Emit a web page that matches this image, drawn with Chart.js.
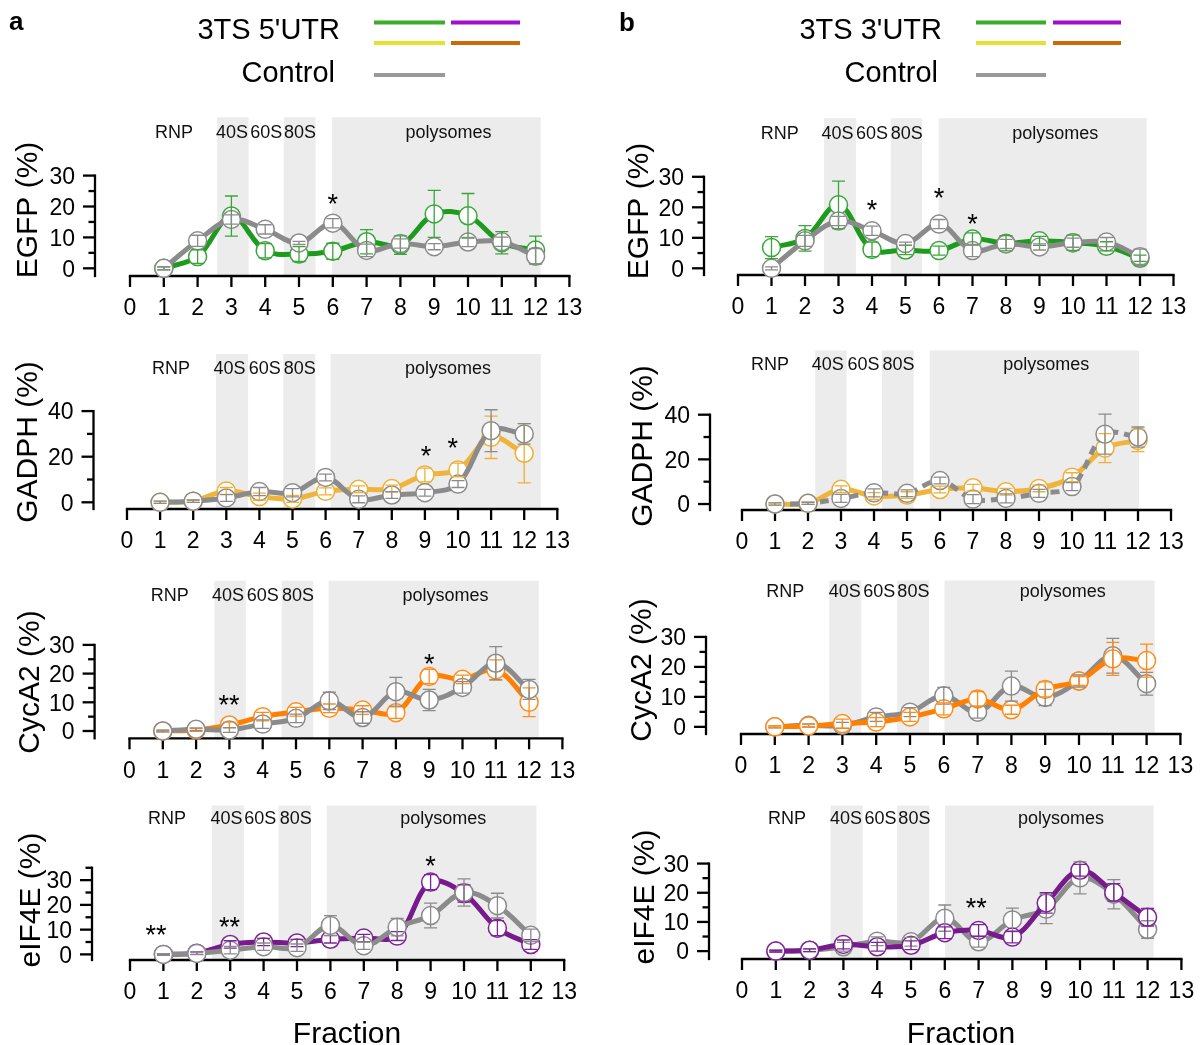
<!DOCTYPE html>
<html><head><meta charset="utf-8">
<script src="https://cdn.jsdelivr.net/npm/chart.js@4.4.1/dist/chart.umd.min.js"></script>
<style>
html,body{margin:0;padding:0;background:#fff;}
#wrap{position:relative;width:1203px;height:1045px;overflow:hidden;background:#fff;}
#wrap canvas{position:absolute;}
</style></head>
<body><div id="wrap"><canvas id="deco" width="1203" height="1045" style="left:0;top:0;width:1203px;height:1045px"></canvas></div>
<script>
// ---------- DATA ----------
const fractions = [1,2,3,4,5,6,7,8,9,10,11,12];
const xTickValues = [0,1,2,3,4,5,6,7,8,9,10,11,12,13];
const xTickLabels = ['0','1','2','3','4','5','6','7','8','9','10','11','12','13'];
const bandLabels = ['RNP','40S','60S','80S','polysomes'];
const legendNames = ["3TS 5'UTR", "3TS 3'UTR", "Control"];
const egfpYTicks = [0,10,20,30];
const gadphYTicks = [0,20,40];
const cycaYTicks = [0,10,20,30];
const eifYTicks = [0,10,20,30];

// EGFP
const egfp5Utr    = [0, 3.8, 16.9, 5.7, 4.6, 5.5, 8.6, 7.5, 17.6, 17.0, 8.3, 5.9];
const egfp5UtrErr = [0.5, 2.2, 6.5, 2.3, 2.4, 2.6, 3.9, 3.0, 7.6, 7.2, 3.6, 4.5];
const egfpCtrlA    = [0, 8.9, 15.8, 12.6, 8.2, 14.6, 5.8, 8.0, 7.0, 8.5, 8.6, 3.9];
const egfpCtrlAErr = [0.5, 1.8, 1.5, 1.5, 0.5, 1.5, 2.0, 1.5, 1.0, 1.5, 1.5, 2.5];
const egfp3Utr    = [6.8, 9.8, 20.8, 6.2, 6.0, 5.8, 9.6, 8.2, 9.0, 8.4, 7.2, 3.3];
const egfp3UtrErr = [3.6, 4.2, 7.8, 2.4, 1.5, 1.5, 2.0, 2.5, 1.5, 2.5, 1.5, 1.0];
const egfpCtrlB    = [0, 9.0, 15.5, 12.3, 8.1, 14.5, 5.8, 8.0, 7.0, 8.4, 8.6, 3.8];
const egfpCtrlBErr = [0.5, 1.8, 1.5, 1.5, 0.5, 1.5, 2.0, 1.5, 1.0, 1.5, 1.5, 2.5];
// GADPH
const gadph5Utr    = [0, 0.5, 5.0, 2.5, 1.5, 4.8, 5.7, 6.0, 12.0, 14.2, 28.5, 21.5];
const gadph5UtrErr = [0.5, 0.5, 1.5, 1.5, 1.5, 1.5, 1.5, 1.5, 3.0, 3.0, 9.3, 13.0];
const gadphCtrlA    = [0, 0.5, 1.9, 4.7, 4.2, 10.9, 1.3, 3.2, 4.2, 8.0, 31.4, 30.0];
const gadphCtrlAErr = [0.5, 0.5, 1.5, 1.8, 1.8, 1.5, 1.5, 1.5, 1.5, 1.5, 9.2, 4.5];
const gadph3Utr    = [0, 0.3, 6.6, 3.6, 4.0, 6.5, 7.3, 5.5, 7.0, 12.0, 25.0, 28.5];
const gadph3UtrErr = [0.5, 0.5, 1.5, 1.5, 1.5, 1.5, 1.5, 1.5, 1.5, 2.0, 6.5, 5.0];
const gadphCtrlB    = [0, 0.3, 2.5, 5.0, 4.8, 10.5, 2.2, 2.5, 4.8, 7.8, 31.3, 30.0];
const gadphCtrlBErr = [0.5, 0.5, 1.8, 1.8, 1.5, 1.5, 2.0, 2.0, 1.8, 1.8, 9.0, 4.5];
// CycA2
const cyca5Utr    = [0, 0.35, 2.1, 5.0, 6.7, 7.9, 7.3, 6.4, 19.0, 18.0, 21.3, 10.0];
const cyca5UtrErr = [0.3, 0.5, 1.0, 1.5, 1.5, 1.5, 1.5, 2.0, 2.5, 1.5, 3.5, 5.0];
const cycaCtrlA    = [0, 0.6, 0.35, 2.4, 4.4, 10.5, 4.7, 13.7, 10.8, 15.2, 23.6, 14.5];
const cycaCtrlAErr = [0.3, 0.5, 0.8, 1.5, 1.5, 3.0, 2.0, 5.0, 3.7, 2.0, 5.8, 3.5];
const cyca3Utr    = [0, 0.3, 1.1, 1.6, 3.3, 6.0, 9.3, 5.7, 12.5, 15.3, 22.7, 22.1];
const cyca3UtrErr = [0.3, 0.5, 1.5, 1.5, 1.5, 2.0, 2.5, 1.5, 2.5, 1.5, 5.5, 5.5];
const cycaCtrlB    = [0, 0.5, 0.5, 3.3, 4.9, 10.4, 4.9, 13.6, 9.8, 15.3, 23.7, 14.4];
const cycaCtrlBErr = [0.3, 0.5, 1.0, 1.5, 1.5, 2.8, 2.0, 5.0, 2.7, 2.0, 5.8, 3.8];
// eIF4E
const eif5Utr    = [0, 0.5, 4.0, 5.0, 4.6, 6.1, 6.6, 7.4, 29.2, 24.6, 10.6, 4.0];
const eif5UtrErr = [0.3, 0.5, 1.5, 1.5, 1.5, 1.5, 1.5, 1.8, 3.0, 3.5, 3.0, 2.0];
const eifCtrlA    = [0, 0.4, 1.7, 3.1, 2.7, 11.7, 3.5, 11.0, 15.7, 25.0, 19.7, 7.7];
const eifCtrlAErr = [0.3, 0.5, 1.5, 1.5, 1.5, 4.0, 1.5, 3.5, 5.0, 5.5, 5.0, 2.5];
const eif3Utr    = [0, 0.3, 2.3, 1.5, 2.0, 6.3, 7.1, 4.8, 16.5, 27.7, 20.1, 11.6];
const eif3UtrErr = [0.3, 0.5, 1.5, 1.5, 1.5, 2.0, 2.0, 2.0, 3.5, 2.0, 3.0, 3.0];
const eifCtrlB    = [0, 0.3, 1.5, 3.4, 3.2, 11.3, 3.2, 10.7, 14.4, 25.1, 19.5, 7.4];
const eifCtrlBErr = [0.3, 0.5, 1.5, 1.5, 1.5, 4.5, 1.8, 4.0, 5.0, 5.5, 5.0, 3.0];

// ---------- STYLE ----------
const FONT = '"Liberation Sans", Arial, Helvetica, sans-serif';
const SHADE = '#ececec';
const GREY_LINE = '#8b8b8b', GREY_PT = '#8b8b8b';
const COLORS = {
  green:  {line:'#1e9b1e', pt:'#3aa53a'},
  gold:   {line:'#efb43c', pt:'#eeb035'},
  orange: {line:'#ff8000', pt:'#ff8c1a'},
  purple: {line:'#771a8c', pt:'#7d2496'}
};

const panels = [
 {box:[0,95,600,245], yAxisX:95, y0:268.3, ppu:3.09, xAxisY:276, x0:130, step:33.8, shadeTop:117.3, labelY:131.7,
  yAxisTop:30, yMajor:egfpYTicks, yMinor:[5,15,25], bands:[[2.58,3.51],[4.55,5.49],[5.98,12.15]], labelX:[1.3,3.02,4.03,5.03,9.42],
  title:'EGFP (%)', titlePos:[26,210], utr:egfp5Utr, utrErr:egfp5UtrErr, ctrl:egfpCtrlA, ctrlErr:egfpCtrlAErr, color:'green', ctrlOnTop:true,
  stars:[['*',6,23]]},
 {box:[600,95,603,245], yAxisX:704, y0:268.3, ppu:3.05, xAxisY:275, x0:738, step:33.5, shadeTop:118.3, labelY:132.7,
  yAxisTop:30, yMajor:egfpYTicks, yMinor:[5,15,25], bands:[[2.57,3.52],[4.56,5.49],[5.99,12.2]], labelX:[1.25,2.97,4.0,5.04,9.47],
  title:'EGFP (%)', titlePos:[637,211], utr:egfp3Utr, utrErr:egfp3UtrErr, ctrl:egfpCtrlB, ctrlErr:egfpCtrlBErr, color:'green', ctrlOnTop:true,
  stars:[['*',4,21.4],['*',6,25.1],['*',7,16.8]]},
 {box:[0,340,600,230], yAxisX:93.5, y0:502.3, ppu:2.28, xAxisY:509, x0:127, step:33.1, shadeTop:354, labelY:367.3,
  yAxisTop:40, yMajor:gadphYTicks, yMinor:[10,30], bands:[[2.69,3.66],[4.72,5.69],[6.15,12.5]], labelX:[1.33,3.1,4.16,5.22,9.7],
  title:'GADPH (%)', titlePos:[26,442], utr:gadph5Utr, utrErr:gadph5UtrErr, ctrl:gadphCtrlA, ctrlErr:gadphCtrlAErr, color:'gold', ctrlOnTop:true,
  stars:[['*',9.03,23.2],['*',9.84,26.6]]},
 {box:[600,340,603,230], yAxisX:710, y0:504, ppu:2.24, xAxisY:510, x0:742, step:33, shadeTop:350, labelY:363.3,
  yAxisTop:40, yMajor:gadphYTicks, yMinor:[10,30], bands:[[2.22,3.17],[4.24,5.2],[5.69,12.03]], labelX:[0.85,2.6,3.68,4.74,9.22],
  title:'GADPH (%)', titlePos:[641,446], utr:gadph3Utr, utrErr:gadph3UtrErr, ctrl:gadphCtrlB, ctrlErr:gadphCtrlBErr, color:'gold', ctrlOnTop:true, ctrlDash:true,
  stars:[]},
 {box:[0,570,600,225], yAxisX:94.6, y0:731, ppu:2.87, xAxisY:738.3, x0:129.5, step:33.3, shadeTop:580.7, labelY:595,
  yAxisTop:30, yMajor:cycaYTicks, yMinor:[5,15,25], bands:[[2.55,3.49],[4.57,5.52],[5.98,12.29]], labelX:[1.21,2.96,4.0,5.06,9.49],
  title:'CycA2 (%)', titlePos:[28,682], utr:cyca5Utr, utrErr:cyca5UtrErr, ctrl:cycaCtrlA, ctrlErr:cycaCtrlAErr, color:'orange', ctrlOnTop:true,
  stars:[['**',2.99,11.4],['*',9,25.7]]},
 {box:[600,570,603,225], yAxisX:706, y0:726.7, ppu:3.06, xAxisY:734, x0:741, step:33.8, shadeTop:577.3, labelY:590.7,
  yAxisTop:30, yMajor:cycaYTicks, yMinor:[5,15,25], bands:[[2.61,3.56],[4.62,5.56],[6.02,12.24]], labelX:[1.31,3.07,4.09,5.1,9.52],
  title:'CycA2 (%)', titlePos:[640,670], utr:cyca3Utr, utrErr:cyca3UtrErr, ctrl:cycaCtrlB, ctrlErr:cycaCtrlBErr, color:'orange', ctrlOnTop:false,
  stars:[]},
 {box:[0,795,600,250], yAxisX:92, y0:954.3, ppu:2.51, xAxisY:960, x0:130, step:33.4, shadeTop:803.3, labelY:817.7,
  yAxisTop:35, yMajor:eifYTicks, yMinor:[5,15,25,35], bands:[[2.45,3.41],[4.45,5.42],[5.89,12.17]], labelX:[1.11,2.89,3.9,4.96,9.38],
  title:'eIF4E (%)', titlePos:[29,900], utr:eif5Utr, utrErr:eif5UtrErr, ctrl:eifCtrlA, ctrlErr:eifCtrlAErr, color:'purple', ctrlOnTop:true,
  stars:[['**',0.78,10.4],['**',2.98,13.7],['*',9,38.2]], fractionPos:[347,1032]},
 {box:[600,795,603,250], yAxisX:709, y0:951, ppu:2.96, xAxisY:959, x0:742, step:33.8, shadeTop:803.3, labelY:817.7,
  yAxisTop:30, yMajor:eifYTicks, yMinor:[5,15,25], bands:[[2.62,3.57],[4.59,5.54],[6.01,12.18]], labelX:[1.33,3.08,4.1,5.1,9.44],
  title:'eIF4E (%)', titlePos:[643,897], utr:eif3Utr, utrErr:eif3UtrErr, ctrl:eifCtrlB, ctrlErr:eifCtrlBErr, color:'purple', ctrlOnTop:false,
  stars:[['**',6.93,16.9]], fractionPos:[961,1032]}
];

const wrap = document.getElementById('wrap');

function pts(vals){ return fractions.map((f,i)=>({x:f, y:vals[i]})); }

function makePanel(p){
  const [L,T,W,H] = p.box;
  const cv = document.createElement('canvas');
  cv.width = W; cv.height = H;
  cv.style.left = L+'px'; cv.style.top = T+'px';
  cv.style.width = W+'px'; cv.style.height = H+'px';
  wrap.appendChild(cv);

  const areaLeft = p.yAxisX - L;
  const areaRight = p.x0 + 13*p.step - L;
  const areaTop = p.shadeTop - T;
  const areaBottom = p.xAxisY - T;
  const xmin = (p.yAxisX - p.x0)/p.step, xmax = 13;
  const ymin = -(p.xAxisY - p.y0)/p.ppu, ymax = (p.y0 - p.shadeTop)/p.ppu;

  const col = COLORS[p.color];
  const ctrlDs = {data:pts(p.ctrl), borderColor:GREY_LINE, borderWidth:5, borderDash:p.ctrlDash?[9,6]:[],
    pointRadius:9, pointBackgroundColor:'#fff', pointBorderColor:GREY_PT, pointBorderWidth:1.5, tension:0.35, clip:false, fill:false};
  const utrDs = {data:pts(p.utr), borderColor:col.line, borderWidth:5,
    pointRadius:9, pointBackgroundColor:'#fff', pointBorderColor:col.pt, pointBorderWidth:1.5, tension:0.35, clip:false, fill:false};
  const datasets = p.ctrlOnTop ? [ctrlDs, utrDs] : [utrDs, ctrlDs];
  const errs = p.ctrlOnTop ? [{e:p.ctrlErr, v:p.ctrl, c:GREY_PT},{e:p.utrErr, v:p.utr, c:col.pt}]
                           : [{e:p.utrErr, v:p.utr, c:col.pt},{e:p.ctrlErr, v:p.ctrl, c:GREY_PT}];

  const deco = {
    id:'deco_'+L+'_'+T,
    beforeDatasetsDraw(chart){
      const ctx = chart.ctx, xs = chart.scales.x, ys = chart.scales.y, ca = chart.chartArea;
      ctx.save();
      // shaded bands
      ctx.fillStyle = SHADE;
      p.bands.forEach(b=>{
        const x1 = xs.getPixelForValue(b[0]), x2 = xs.getPixelForValue(b[1]);
        ctx.fillRect(x1, ca.top, x2-x1, ca.bottom-ca.top);
      });
      // band labels
      ctx.fillStyle = '#111';
      ctx.font = '18px '+FONT;
      ctx.textAlign = 'center'; ctx.textBaseline = 'alphabetic';
      bandLabels.forEach((t,i)=>ctx.fillText(t, xs.getPixelForValue(p.labelX[i]), p.labelY - T + 6.4));
      // axes
      ctx.strokeStyle = '#000'; ctx.lineWidth = 2.3; ctx.lineCap = 'butt';
      const ax = ca.left;
      ctx.beginPath();
      ctx.moveTo(ax, ys.getPixelForValue(p.yAxisTop) - 1.15);
      ctx.lineTo(ax, ca.bottom + 1.15);
      ctx.stroke();
      ctx.fillStyle = '#000';
      ctx.font = '23px '+FONT;
      ctx.textAlign = 'right';
      p.yMajor.forEach(v=>{
        const y = ys.getPixelForValue(v);
        ctx.beginPath(); ctx.moveTo(ax-12, y); ctx.lineTo(ax, y); ctx.stroke();
        ctx.fillText(String(v), ax-20, y + 0.358*23);
      });
      p.yMinor.forEach(v=>{
        const y = ys.getPixelForValue(v);
        ctx.beginPath(); ctx.moveTo(ax-6.5, y); ctx.lineTo(ax, y); ctx.stroke();
      });
      const xb = ca.bottom;
      ctx.beginPath();
      ctx.moveTo(xs.getPixelForValue(0)-1.15, xb);
      ctx.lineTo(xs.getPixelForValue(13)+1.15, xb);
      ctx.stroke();
      ctx.textAlign = 'center';
      xTickValues.forEach((v,i)=>{
        const x = xs.getPixelForValue(v);
        ctx.beginPath(); ctx.moveTo(x, xb); ctx.lineTo(x, xb+11); ctx.stroke();
        ctx.fillText(xTickLabels[i], x, xb + 31 + 0.358*23);
      });
      // y title
      ctx.save();
      ctx.translate(p.titlePos[0]-L, p.titlePos[1]-T);
      ctx.rotate(-Math.PI/2);
      ctx.font = '30px '+FONT;
      ctx.textAlign = 'center';
      ctx.fillText(p.title, 0, 0.358*30);
      ctx.restore();
      // x title
      if (p.fractionPos){
        ctx.font = '30px '+FONT;
        ctx.textAlign = 'center';
        ctx.fillText('Fraction', p.fractionPos[0]-L, p.fractionPos[1]-T + 0.358*30);
      }
      // significance marks
      ctx.font = '27px '+FONT;
      ctx.textAlign = 'center';
      p.stars.forEach(s=>{
        ctx.fillText(s[0], xs.getPixelForValue(s[1]), ys.getPixelForValue(s[2]) + 15.5);
      });
      ctx.restore();
    },
    afterDatasetsDraw(chart){
      const ctx = chart.ctx, ys = chart.scales.y;
      ctx.save();
      ctx.lineWidth = 1.3;
      for (let i = errs.length-1; i>=0; i--){
        const meta = chart.getDatasetMeta(i);
        const s = errs[i];
        ctx.strokeStyle = s.c;
        s.e.forEach((e,j)=>{
          const el = meta.data[j];
          const yt = ys.getPixelForValue(s.v[j]+e), yb = ys.getPixelForValue(s.v[j]-e);
          ctx.beginPath();
          ctx.moveTo(el.x, yt); ctx.lineTo(el.x, yb);
          ctx.moveTo(el.x-6.5, yt); ctx.lineTo(el.x+6.5, yt);
          ctx.moveTo(el.x-6.5, yb); ctx.lineTo(el.x+6.5, yb);
          ctx.stroke();
        });
      }
      ctx.restore();
    }
  };

  new Chart(cv, {
    type:'line',
    data:{datasets},
    options:{
      responsive:false, animation:false, devicePixelRatio:1, events:[],
      layout:{padding:{left:areaLeft, right:W-areaRight, top:areaTop, bottom:H-areaBottom}},
      scales:{
        x:{type:'linear', min:xmin, max:xmax, display:false},
        y:{type:'linear', min:ymin, max:ymax, display:false}
      },
      plugins:{legend:{display:false}, tooltip:{enabled:false}}
    },
    plugins:[deco]
  });
}

panels.forEach(makePanel);

// ---------- legends and panel letters ----------
const d = document.getElementById('deco').getContext('2d');
d.fillStyle = '#000';
d.font = 'bold 26px '+FONT;
d.textAlign = 'left';
d.fillText('a', 9, 30);
d.fillText('b', 619, 31);
d.font = '29px '+FONT;
d.textAlign = 'right';
d.fillText(legendNames[0], 340, 28.3 + 0.358*29);
d.fillText(legendNames[2], 335, 71.7 + 0.358*29);
d.fillText(legendNames[1], 942, 28.3 + 0.358*29);
d.fillText(legendNames[2], 938, 71.7 + 0.358*29);
function bar(x1,x2,y,c){ d.fillStyle=c; d.fillRect(x1, y-2, x2-x1, 4); }
[[374,445,451,520],[976,1046,1053,1121]].forEach(g=>{
  bar(g[0],g[1],22.5,'#3cac2c');
  bar(g[2],g[3],22.5,'#a010cc');
  bar(g[0],g[1],43,'#e6e232');
  bar(g[2],g[3],43,'#cc6a0a');
  bar(g[0],g[1],75,'#999999');
});
</script>
</body></html>
